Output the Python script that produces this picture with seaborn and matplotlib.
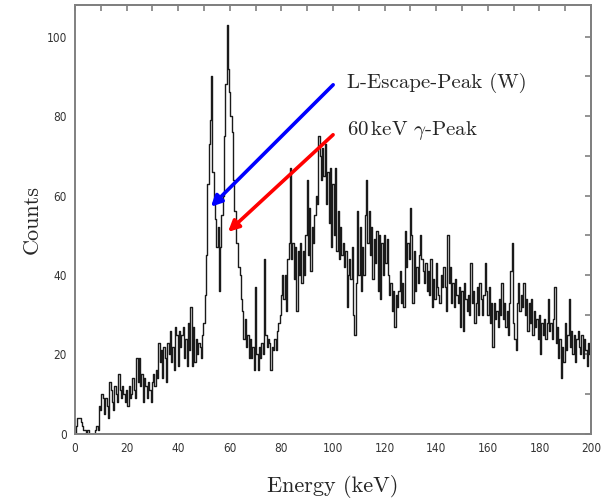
import numpy as np
import pandas as pd
import matplotlib
matplotlib.use("Agg")
import matplotlib.pyplot as plt
import seaborn as sns

# spectrum, 0.5 keV bins from 0 to 200 keV
bin_width = 0.5
counts = [
    0, 2, 4, 4, 4, 3, 2, 1, 1, 0,
    1, 0, 0, 0, 0, 0, 1, 2, 1, 7,
    6, 10, 9, 5, 9, 7, 4, 13, 11, 8,
    6, 12, 10, 8, 15, 11, 9, 12, 10, 8,
    11, 7, 12, 9, 10, 14, 11, 9, 19, 13,
    19, 12, 15, 8, 14, 12, 9, 13, 11, 8,
    13, 15, 12, 16, 14, 23, 18, 21, 14, 22,
    19, 13, 23, 20, 26, 18, 22, 16, 27, 25,
    17, 26, 22, 25, 27, 19, 24, 17, 28, 21,
    32, 17, 27, 18, 24, 20, 23, 22, 19, 25,
    28, 35, 45, 63, 73, 79, 90, 66, 59, 54,
    47, 52, 36, 47, 55, 60, 75, 88, 103, 92,
    86, 80, 76, 64, 56, 48, 48, 42, 40, 34,
    31, 24, 29, 22, 25, 19, 24, 19, 22, 16,
    37, 20, 16, 22, 19, 23, 20, 44, 25, 22,
    24, 23, 16, 22, 21, 24, 21, 26, 28, 30,
    35, 40, 34, 40, 31, 44, 48, 67, 44, 48,
    39, 47, 31, 46, 40, 48, 38, 46, 40, 50,
    64, 45, 57, 41, 52, 48, 55, 60, 58, 75,
    70, 64, 72, 65, 73, 58, 66, 53, 67, 47,
    63, 50, 67, 46, 56, 44, 52, 45, 48, 42,
    46, 32, 40, 44, 39, 47, 30, 25, 38, 56,
    40, 52, 36, 47, 40, 55, 64, 48, 56, 45,
    52, 39, 49, 43, 51, 36, 50, 34, 48, 40,
    50, 43, 49, 40, 35, 38, 31, 36, 27, 35,
    32, 36, 41, 33, 38, 32, 51, 42, 48, 44,
    57, 50, 33, 46, 36, 42, 38, 45, 50, 44,
    41, 38, 43, 36, 41, 35, 44, 32, 39, 34,
    43, 37, 35, 33, 40, 37, 42, 37, 31, 50,
    38, 42, 33, 38, 32, 39, 35, 33, 37, 27,
    36, 26, 38, 34, 31, 35, 30, 43, 33, 36,
    28, 33, 37, 30, 38, 34, 30, 35, 43, 36,
    30, 37, 28, 33, 22, 33, 29, 31, 27, 34,
    30, 38, 29, 33, 27, 31, 25, 33, 41, 48,
    28, 24, 21, 33, 38, 31, 35, 32, 38, 30,
    34, 26, 33, 28, 34, 25, 31, 27, 29, 24,
    30, 20, 28, 25, 29, 24, 28, 34, 26, 28,
    24, 29, 37, 23, 27, 19, 24, 14, 22, 18,
    28, 21, 25, 34, 22, 26, 20, 25, 18, 24,
    26, 22, 20, 25, 19, 24, 21, 17, 23, 20,
]
energy = np.arange(len(counts)) * bin_width

# annotation arrows (tail -> head) in data coordinates
escape_label = "L-Escape-Peak (W)"
gamma_label = r"60$\,$keV $\gamma$-Peak"
escape_tail, escape_head = (100.8, 88.4), (51.9, 56.7)
gamma_tail, gamma_head = (100.8, 75.8), (58.5, 50.4)

df = pd.DataFrame({"Energy": energy, "Counts": counts})

sns.set_style("white")
plt.rcParams["mathtext.fontset"] = "cm"
plt.rcParams["font.family"] = ["DejaVu Sans"]

fig = plt.figure(figsize=(6.10, 5.01), dpi=100)
ax = fig.add_axes([0.123, 0.134, 0.846, 0.856])

sns.lineplot(data=df, x="Energy", y="Counts", drawstyle="steps-mid",
             color="#1a1a1a", linewidth=1.0, ax=ax)

ax.set_xlim(0, 200)
ax.set_ylim(0, 108)

spine_col = "#808080"
for s in ax.spines.values():
    s.set_color(spine_col)
    s.set_linewidth(1.4)

xt = np.arange(0, 201, 10)
yt = np.arange(0, 101, 10)
ax.set_xticks(xt)
ax.set_xticklabels([str(v) if v % 20 == 0 else "" for v in xt])
ax.set_yticks(yt)
ax.set_yticklabels([str(v) if v % 20 == 0 else "" for v in yt])
ax.tick_params(direction="out", length=4, width=1.2, color=spine_col,
               labelsize=8.5, labelcolor="#333333", pad=2)
for lab in ax.get_xticklabels() + ax.get_yticklabels():
    lab.set_fontstretch("condensed")

top = ax.secondary_xaxis("top")
top.set_xticks(xt)
top.tick_params(direction="in", length=4, width=1.2, color=spine_col, labeltop=False)
right = ax.secondary_yaxis("right")
right.set_yticks(yt)
right.tick_params(direction="in", length=4, width=1.2, color=spine_col, labelright=False)
for sec in (top, right):
    for s in sec.spines.values():
        s.set_color(spine_col)
        s.set_linewidth(1.4)

ax.set_xlabel("Energy (keV)", fontfamily="cmr10", fontsize=16, labelpad=14)
ax.set_ylabel("Counts", fontfamily="cmr10", fontsize=16, labelpad=3)

ax.annotate("", xy=escape_head, xytext=escape_tail,
            arrowprops=dict(arrowstyle="-|>", color="blue", lw=2.6, mutation_scale=16))
ax.annotate("", xy=gamma_head, xytext=gamma_tail,
            arrowprops=dict(arrowstyle="-|>", color="red", lw=2.6, mutation_scale=16))
ax.text(105.4, 88.4, escape_label, fontfamily="cmr10", fontsize=15, va="center")
ax.text(105.4, 76.3, gamma_label, fontfamily="cmr10", fontsize=15, va="center")

fig.savefig("out.png", dpi=100)
